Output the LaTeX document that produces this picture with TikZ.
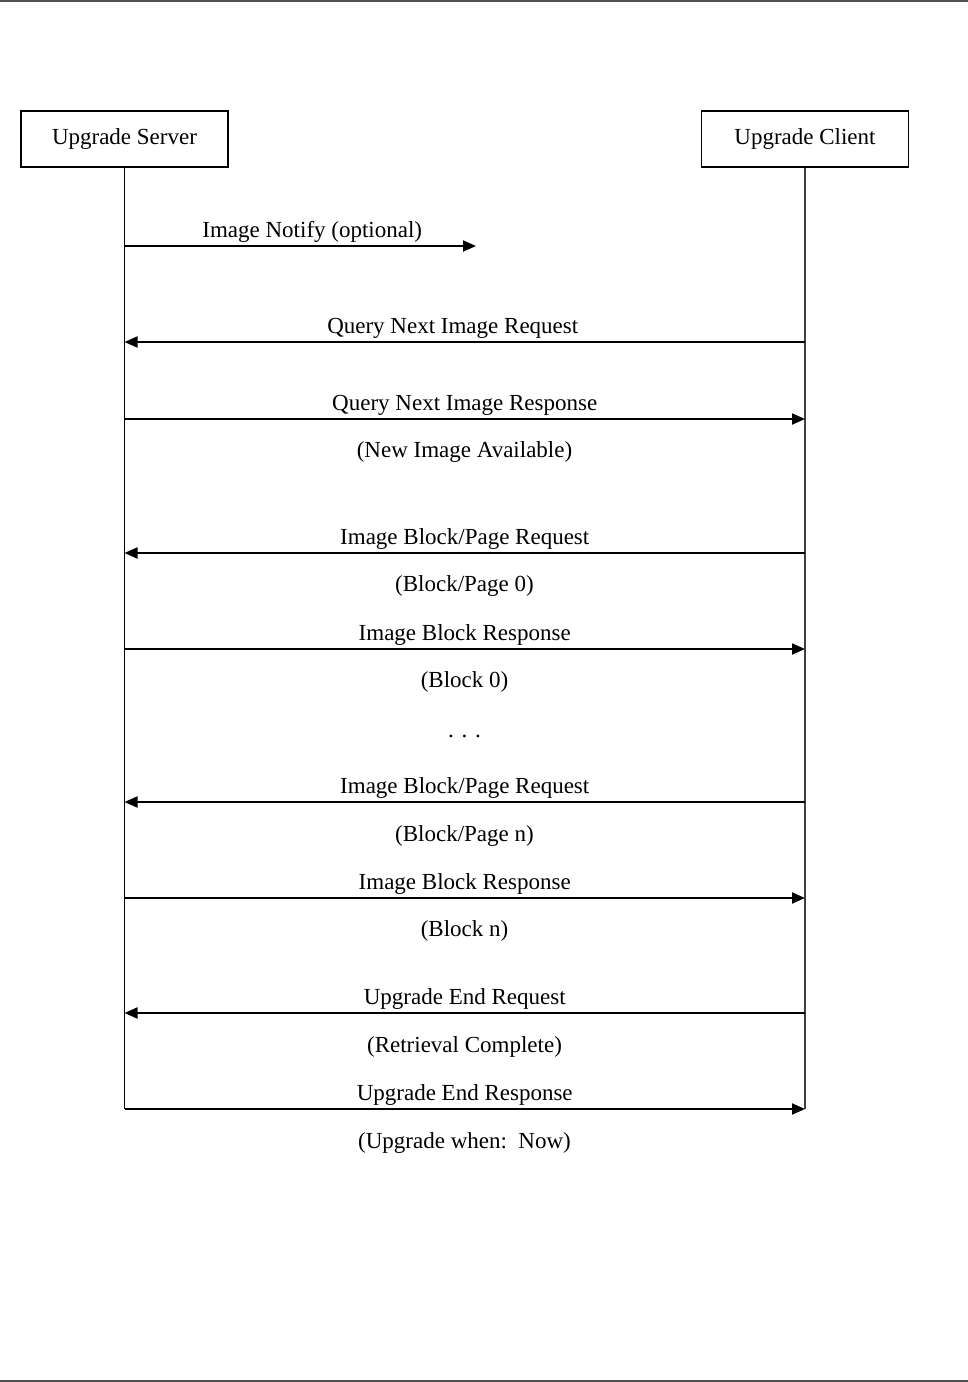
\documentclass[tikz,border=0pt]{standalone}
\usepackage{fontspec}
\setmainfont{Liberation Serif}
\usepackage{xcolor}
\usetikzlibrary{arrows.meta,positioning}

\definecolor{rulegray}{HTML}{505050}

\begin{document}
\begin{tikzpicture}[x=0.5pt, y=-0.5pt, font=\fontsize{11.5}{14}\selectfont,
  party/.style={draw, line width=0.9pt, minimum width=103.5pt, minimum height=28pt, inner sep=0pt},
  life/.style={line width=0.75pt},
  msg/.style={line width=1pt, -{Triangle[length=6.5pt, width=5.5pt]}},
  lbl/.style={above, text height=8pt, text depth=2.5pt, inner sep=1.3pt},
  note/.style={inner sep=0pt}]

\useasboundingbox (0,0) rectangle (968,1382);

% page rules, top and bottom
\draw[rulegray, line width=1pt] (0,1) -- (968,1);
\draw[rulegray, line width=1pt] (0,1381) -- (968,1381);

% the two parties
\node[party] (srv) at (124.5,139) {Upgrade Server};
\node[party] (cli) at (805,139) {Upgrade Client};

% message end points on the lifelines
\foreach \n/\y in {1/342, 2/419, 3/553, 4/649, 5/802, 6/898, 7/1013, 8/1109}{
  \coordinate (s\n) at (124.5,\y);
  \coordinate (c\n) at (805,\y);
}
\coordinate (s0) at (124.5,246);
\coordinate (n0) at (476,246);

% lifelines
\draw[life] (srv.south) -- (s8);
\draw[life, black!75] (cli.south) -- (c8);

% Image notify, only half way
\draw[msg] (s0) -- (n0) node[lbl, midway, xshift=6pt] {Image Notify (optional)};

% Query next image
\draw[msg] (c1) -- (s1) node[lbl, midway, xshift=-6pt] {Query Next Image Request};
\draw[msg] (s2) -- (c2) node[lbl, midway] {Query Next Image Response};
\node[note] (avail) at (464.5,452) {(New Image Available)};

% first block
\draw[msg] (c3) -- (s3) node[lbl, midway] {Image Block/Page Request};
\node[note] (page0) at (464.5,586) {(Block/Page 0)};
\draw[msg] (s4) -- (c4) node[lbl, midway] {Image Block Response};
\node[note] (blk0) at (464.5,682) {(Block 0)};

\node[note] (dots) at (464.5,736) {. . .};

% last block
\draw[msg] (c5) -- (s5) node[lbl, midway] {Image Block/Page Request};
\node[note] (pagen) at (464.5,836) {(Block/Page n)};
\draw[msg] (s6) -- (c6) node[lbl, midway] {Image Block Response};
\node[note] (blkn) at (464.5,931) {(Block n)};

% upgrade end
\draw[msg] (c7) -- (s7) node[lbl, midway] {Upgrade End Request};
\node[note] (done) at (464.5,1047) {(Retrieval Complete)};
\draw[msg] (s8) -- (c8) node[lbl, midway] {Upgrade End Response};
\node[note] (when) at (464.5,1143) {(Upgrade when:\ \ Now)};

\end{tikzpicture}
\end{document}
